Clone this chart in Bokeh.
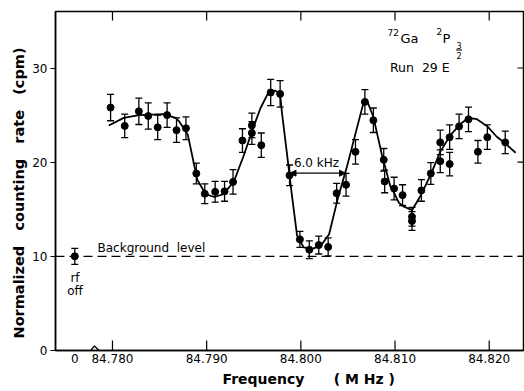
import math
from bokeh.plotting import figure
from bokeh.models import (ColumnDataSource, Whisker, TeeHead, FixedTicker, Range1d, Label,
                          Arrow, NormalHead, Span, Title)
from bokeh.embed import file_html
from bokeh.resources import INLINE

# ---- data ----
freq = [84.7798, 84.7813, 84.7828, 84.7838, 84.7848, 84.7858, 84.7868, 84.7878, 84.7889, 84.7898,
        84.7909, 84.7919, 84.7928, 84.7938, 84.7948, 84.7948, 84.7958, 84.7968, 84.7978, 84.7988,
        84.7999, 84.8009, 84.8019, 84.8029, 84.8038, 84.8048, 84.8058, 84.8068, 84.8077, 84.8088,
        84.8089, 84.8099, 84.8108, 84.8118, 84.8118, 84.8128, 84.8138, 84.8148, 84.8148, 84.8158,
        84.8158, 84.8168, 84.8178, 84.8188, 84.8198, 84.8217]
rate = [25.8, 23.85, 25.4, 24.9, 23.7, 25.0, 23.4, 23.6, 18.8, 16.65,
        16.85, 16.9, 17.9, 22.3, 23.9, 23.1, 21.8, 27.4, 27.25, 18.6,
        11.8, 10.7, 11.2, 11.0, 16.7, 17.6, 21.1, 26.4, 24.45, 20.25,
        17.95, 17.2, 16.5, 14.2, 13.75, 17.0, 18.8, 22.1, 20.1, 22.65,
        19.8, 23.8, 24.55, 21.1, 22.65, 22.1]
err = [1.4, 1.25, 1.4, 1.4, 1.3, 1.3, 1.3, 1.2, 1.1, 1.05,
       1.1, 1.05, 1.3, 1.25, 1.3, 1.2, 1.3, 1.4, 1.4, 1.1,
       0.85, 0.95, 0.95, 0.95, 1.05, 1.2, 1.3, 1.3, 1.3, 1.2,
       1.2, 1.2, 1.1, 1.0, 1.0, 1.15, 1.15, 1.3, 1.2, 1.3,
       1.25, 1.3, 1.3, 1.2, 1.3, 1.2]

fit_freq = [84.7796, 84.7812, 84.7828, 84.7854, 84.7867, 84.7871, 84.7880, 84.7890, 84.7899, 84.7908,
            84.7918, 84.7929, 84.7939, 84.7950, 84.7957, 84.7966, 84.7973, 84.7978, 84.7980, 84.7986,
            84.7990, 84.7996, 84.8003, 84.8012, 84.8021, 84.8030, 84.8039, 84.8049, 84.8060, 84.8067,
            84.8070, 84.8077, 84.8086, 84.8095, 84.8099, 84.8104, 84.8109, 84.8118, 84.8127, 84.8138,
            84.8148, 84.8159, 84.8170, 84.8178, 84.8187, 84.8198, 84.8208, 84.8217, 84.8228]
fit_rate = [23.9, 24.7, 25.0, 25.1, 24.7, 24.3, 22.9, 18.15, 16.6, 16.3,
            16.6, 17.97, 20.6, 23.8, 25.7, 27.5, 27.6, 27.2, 25.2, 20.3,
            16.9, 12.2, 10.95, 10.8, 11.1, 12.35, 16.05, 19.55, 23.8, 26.5,
            26.6, 24.8, 20.8, 17.45, 16.75, 15.7, 15.3, 14.9, 16.4, 18.7,
            21.1, 22.9, 24.1, 24.7, 24.56, 23.8, 22.7, 22.0, 21.0]

rf_off_freq = [84.7760]
rf_off_rate = [10.0]
rf_off_err = [0.85]
background_level = 10.0

x_ticks = [84.78, 84.79, 84.80, 84.81, 84.82]
x_tick_labels = ["84.780", "84.790", "84.800", "84.810", "84.820"]
rf_off_tick_label = "0"
y_ticks = [0, 10, 20, 30]
right_ticks = [10, 20, 30]

NB = "\u00a0"
x_title = "Frequency" + NB * 6 + "(" + NB + "M" + NB + "Hz" + NB + ")"
y_title = ("Normalized" + NB * 3 + "counting" + NB * 3 + "rate" + NB * 3 + "(cpm)")

# ---- layout ----
W, H = 524, 391
FL, FR, FT, FB = 55, 523, 11, 350
X0, X1 = 84.77395, 84.82364
Y0, Y1 = 0.0, 36.0
DX = (X1 - X0) / (FR - FL)   # data per pixel
DY = (Y1 - Y0) / (FB - FT)


def sx(px):
    return X0 + (px - FL) * DX


def sy(py):
    return Y0 + (FB - py) * DY


FONT = "DejaVu Sans"

p = figure(width=W, height=H, output_backend="svg", toolbar_location=None,
           x_range=Range1d(X0, X1), y_range=Range1d(Y0, Y1),
           min_border_left=FL, min_border_right=W - FR, min_border_top=FT,
           min_border_bottom=H - FB)
p.grid.visible = False
p.outline_line_color = "black"
p.outline_line_width = 1.5
p.background_fill_color = "white"
p.border_fill_color = "white"

xa = p.xaxis[0]
xa.ticker = FixedTicker(ticks=rf_off_freq + x_ticks)
overrides = {t: s for t, s in zip(x_ticks, x_tick_labels)}
overrides[rf_off_freq[0]] = rf_off_tick_label
xa.major_label_overrides = overrides
xa.major_tick_in = 0
xa.major_tick_out = 0
xa.major_tick_line_color = None
xa.minor_tick_line_color = None
xa.axis_line_width = 1.5
xa.major_label_text_font = FONT
xa.major_label_text_font_size = "12px"
xa.major_label_text_color = "black"
xa.major_label_standoff = 3

ya = p.yaxis[0]
ya.ticker = FixedTicker(ticks=y_ticks)
ya.major_tick_in = 0
ya.major_tick_out = 5
ya.minor_tick_line_color = None
ya.axis_line_width = 1.5
ya.major_tick_line_width = 1.2
ya.major_label_text_font = FONT
ya.major_label_text_font_size = "12px"
ya.major_label_text_color = "black"
ya.major_label_standoff = 3

# axis titles as side-panel titles (left-aligned with an offset, like the original)
p.add_layout(Title(text=x_title, align="left", offset=222 - FL, text_font=FONT,
                   text_font_size="14px", text_font_style="bold", text_color="black",
                   standoff=6), "below")
p.add_layout(Title(text=y_title, align="left", offset=FB - 338, text_font=FONT,
                   text_font_size="14.5px", text_font_style="bold", text_color="black",
                   standoff=6), "left")

# inward ticks on bottom, top and right edges
p.segment(x0=x_ticks, y0=[Y0] * len(x_ticks), x1=x_ticks, y1=[Y0 + 10 * DY] * len(x_ticks),
          line_color="black", line_width=1.2)
p.segment(x0=x_ticks, y0=[Y1] * len(x_ticks), x1=x_ticks, y1=[Y1 - 9 * DY] * len(x_ticks),
          line_color="black", line_width=1.2)
p.segment(x0=[X1] * len(right_ticks), y0=right_ticks, x1=[X1 - 6 * DX] * len(right_ticks),
          y1=right_ticks, line_color="black", line_width=1.2)

# background level
p.add_layout(Span(location=background_level, dimension="width", line_color="black",
                  line_width=1.2, line_dash="9 5"))

# fit curve
p.line(fit_freq, fit_rate, line_color="black", line_width=1.8)

# data with error bars
src = ColumnDataSource(dict(x=freq, y=rate,
                            lo=[r - e for r, e in zip(rate, err)],
                            hi=[r + e for r, e in zip(rate, err)]))
p.add_layout(Whisker(source=src, base="x", lower="lo", upper="hi", line_width=1.3,
                     line_color="black",
                     lower_head=TeeHead(size=7, line_width=1.3),
                     upper_head=TeeHead(size=7, line_width=1.3)))
p.scatter("x", "y", source=src, size=7, color="black")

src0 = ColumnDataSource(dict(x=rf_off_freq, y=rf_off_rate,
                             lo=[r - e for r, e in zip(rf_off_rate, rf_off_err)],
                             hi=[r + e for r, e in zip(rf_off_rate, rf_off_err)]))
p.add_layout(Whisker(source=src0, base="x", lower="lo", upper="hi", line_width=1.3,
                     line_color="black",
                     lower_head=TeeHead(size=7, line_width=1.3),
                     upper_head=TeeHead(size=7, line_width=1.3)))
p.scatter("x", "y", source=src0, size=7, color="black")

# axis break mark
zz_x = [sx(81.7), sx(86), sx(94), sx(98.5)]
zz_y = [sy(350), sy(354.5), sy(345.5), sy(350)]
p.line(zz_x, zz_y, line_color="black", line_width=1.3)

# 6.0 kHz arrow
p.add_layout(Arrow(x_start=sx(289.5), y_start=sy(172.7), x_end=sx(345), y_end=sy(172.7),
                   line_width=1.2,
                   start=NormalHead(size=6, fill_color="black", line_color="black"),
                   end=NormalHead(size=6, fill_color="black", line_color="black")))


def lab(px, py, text, size="12px", align="left", baseline="middle", style="normal"):
    p.add_layout(Label(x=sx(px), y=sy(py), text=text, text_font=FONT, text_font_size=size,
                       text_align=align, text_baseline=baseline, text_font_style=style,
                       text_color="black"))


lab(316, 162, "6.0" + NB + "kHz", align="center")
lab(97, 247.5, "Background" + NB * 2 + "level")
lab(74.5, 277.5, "rf", align="center")
lab(74.5, 290.5, "off", align="center")

lab(387, 31.5, "72", size="9px")
lab(400, 38, "Ga", size="13px")
lab(436, 31, "2", size="9px")
lab(442, 38, "P", size="13px")
lab(458.5, 44.5, "3", size="8px", align="center")
lab(458.5, 54.5, "2", size="8px", align="center")
p.segment(x0=[sx(455.5)], y0=[sy(49.5)], x1=[sx(461.5)], y1=[sy(49.5)],
          line_color="black", line_width=1)
lab(389.5, 66.5, "Run" + NB * 2 + "29" + NB + "E", size="12.5px")

open("out.html", "w").write(file_html(p, INLINE))
